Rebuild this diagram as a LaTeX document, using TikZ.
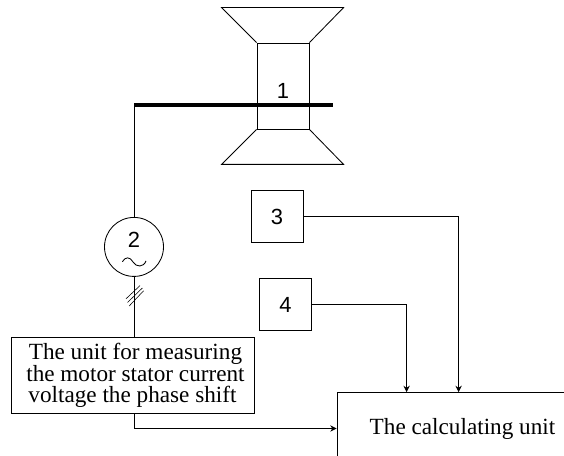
\documentclass[tikz,border=0pt]{standalone}
\usepackage{fontspec}
\setmainfont{Liberation Serif}
\newfontfamily\numfont{Liberation Sans}
\usetikzlibrary{arrows.meta,positioning,calc}

\begin{document}
\begin{tikzpicture}[
    comp/.style={rectangle, draw, line width=0.6pt, minimum width=1.3cm, minimum height=1.3cm, inner sep=0pt, font=\numfont\fontsize{15.6}{18}\selectfont},
    unit/.style={rectangle, draw, line width=0.6pt, inner sep=0pt, align=center, font=\fontsize{16.5}{14.9}\selectfont},
    numlabel/.style={inner sep=0pt, font=\numfont\fontsize{15.6}{18}\selectfont},
    wire/.style={line width=0.6pt},
    arrow/.style={-{Stealth[length=4.5pt,width=4.5pt]}, line width=0.6pt}
  ]
    \clip (0,0) rectangle (14.1,11.4);

    % motor
    \node[comp, minimum height=2.15cm] (stator) at (7.075,9.25) {};
    \node[numlabel] (statornum) at ([yshift=-0.125cm]stator.center) {1};
    \draw[wire] (stator.north west) -- ++(-0.875,0.875) -- ++(3.05,0) -- (stator.north east);
    \draw[wire] (stator.south west) -- ++(-0.875,-0.875) -- ++(3.05,0) -- (stator.south east);
    \coordinate (shaft) at (3.35,8.775);
    \coordinate (shaftend) at (8.325,8.775);

    \node[comp, circle, minimum size=1.475cm, below=2.8cm of shaft] (gen) {};
    \node[numlabel] (gennum) at ([yshift=0.175cm]gen.center) {2};
    \node[unit, minimum width=6.075cm, minimum height=1.9cm, below=1.5cm of gen, xshift=-0.0375cm] (meas) {\hspace*{0.15cm}The unit for measuring\\\hspace*{0.15cm}the motor stator current\\voltage the phase shift};

    \node[comp, below=1.525cm of stator, xshift=-0.15cm] (sens3) {3};
    \node[comp, below=0.875cm of sens3, xshift=0.2125cm] (sens4) {4};
    \node[unit, minimum width=6.275cm, minimum height=1.8cm, below=1.525cm of sens4, xshift=4.425cm] (calc) {The calculating unit};
    \coordinate[right=3.05cm of calc.north west] (in3);
    \coordinate[right=1.75cm of calc.north west] (in4);

    \draw[line width=0.1cm] (shaft) -- (shaftend);
    \draw[wire] (shaft) -- (gen.north);
    \draw[wire] (gen.south) -- (gen.south |- meas.north);
    \draw[arrow] (gen.south |- meas.south) -- (gen.south |- calc.west) -- (calc.west);
    \draw[arrow] (sens3.east) -| (in3);
    \draw[arrow] (sens4.east) -| (in4);

    % sine mark and hatches
    \draw[wire] ($(gen.center)+(-0.29,-0.37)$) .. controls ($(gen.center)+(-0.22,-0.24)$) and ($(gen.center)+(-0.1,-0.24)$) .. ($(gen.center)+(-0.025,-0.375)$) .. controls ($(gen.center)+(0.05,-0.51)$) and ($(gen.center)+(0.24,-0.52)$) .. ($(gen.center)+(0.3,-0.35)$);
    \draw[line width=0.4pt] (3.15,3.93) -- ++(0.35,0.33) ++(-0.31,-0.42) -- ++(0.37,0.36) ++(-0.33,-0.45) -- ++(0.36,0.38);
  \end{tikzpicture}
\end{document}
